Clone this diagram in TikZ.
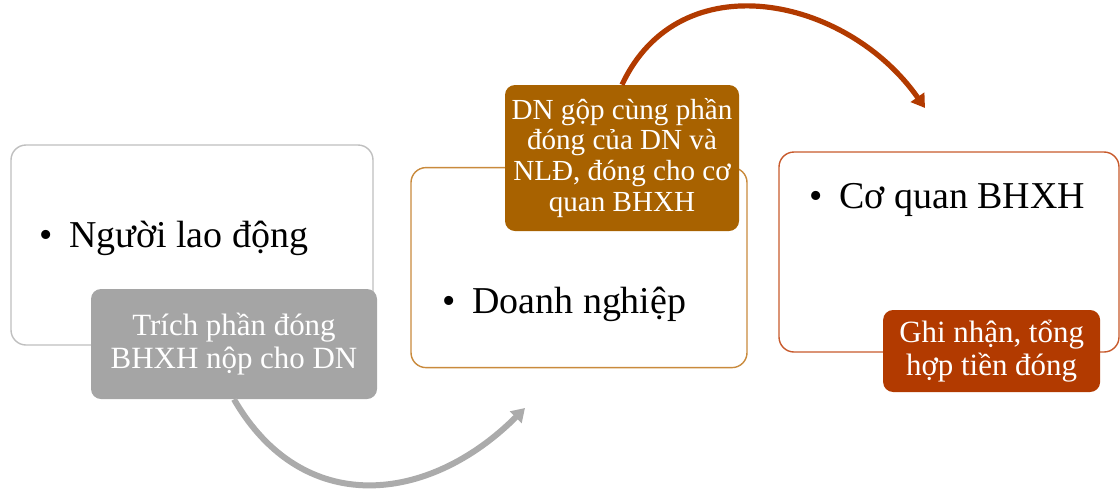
\documentclass[tikz,border=0pt]{standalone}
\usepackage{fontspec}
\setmainfont{Liberation Serif}
\usetikzlibrary{positioning,arrows.meta}

\definecolor{greyline}{HTML}{BFBFBF}
\definecolor{greyfill}{HTML}{A5A5A5}
\definecolor{greyarrow}{HTML}{ABABAB}
\definecolor{ochreline}{HTML}{C98A3C}
\definecolor{ochrefill}{HTML}{A86200}
\definecolor{rustline}{HTML}{C85A2C}
\definecolor{rustfill}{HTML}{B23A00}

\begin{document}
\begin{tikzpicture}[
  box/.style={rectangle, draw, rounded corners=0.375cm, line width=1pt, fill=white, minimum height=5cm},
  tag/.style={rectangle, rounded corners=0.25cm, text=white, align=center, inner sep=0pt,
    font=\fontsize{22}{23.5}\selectfont},
  item/.style={anchor=base west, inner sep=0pt, font=\fontsize{27}{32}\selectfont},
  flow/.style={line width=0.15cm, -{Triangle[length=0.33cm,width=0.4cm]}}
]
\useasboundingbox (0,0) rectangle (28,-12.2);

% main boxes
\node[box, draw=greyline, minimum width=9.05cm] (worker) at (4.8,-6.125) {};
\node[box, draw=ochreline, minimum width=8.4cm] (firm) at (14.475,-6.69) {};
\node[box, draw=rustline, minimum width=8.5cm] (agency) at (23.725,-6.3) {};

\node[item] (workertext) at (0.975,-6.175) {\textbullet\hspace{0.42cm}Người lao động};
\node[item] (firmtext) at (11.05,-7.825) {\textbullet\hspace{0.42cm}Doanh nghiệp};
\node[item] (agencytext) at (20.225,-5.2) {\textbullet\hspace{0.42cm}Cơ quan BHXH};

% filled tags
\node[tag, fill=greyfill, minimum width=7.15cm, minimum height=2.75cm] (deduct) at (5.85,-8.6)
  {Trích phần đóng\\BHXH nộp cho DN};
\node[tag, fill=ochrefill, minimum width=5.85cm, minimum height=3.65cm,
  font=\fontsize{20.7}{22}\selectfont] (merge) at (15.55,-3.95)
  {DN gộp cùng phần\\đóng của DN và\\NLĐ, đóng cho cơ\\quan BHXH};
\node[tag, fill=rustfill, minimum width=5.425cm, minimum height=2.05cm] (record) at (24.79,-8.775)
  {Ghi nhận, tổng\\hợp tiền đóng};

% arrows
\coordinate (greyend) at (13.125,-10.2);
\coordinate (rustend) at (23.125,-2.7);
\draw[flow, greyarrow] (deduct.south) to[out=-60, in=-135, looseness=1.2] (greyend);
\draw[flow, rustfill, line width=0.13cm] (merge.north) to[out=65, in=125, looseness=1.15] (rustend);
\end{tikzpicture}
\end{document}
